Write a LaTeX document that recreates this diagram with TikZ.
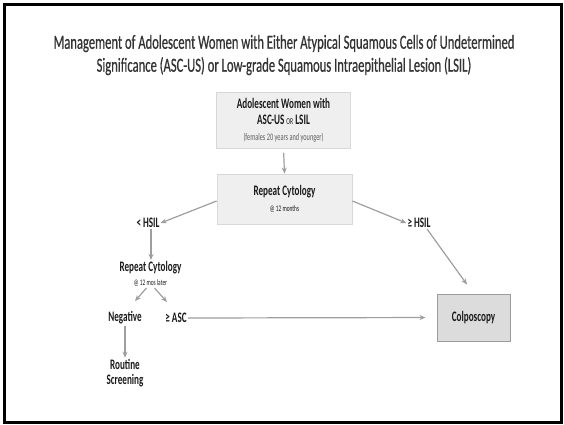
\documentclass[tikz,border=0pt]{standalone}
\usepackage{fontspec}
\setmainfont{Carlito}[FakeStretch=0.63]
\newfontfamily\headfont{Carlito}[FakeStretch=0.63, FakeBold=0.6]
\usetikzlibrary{arrows.meta}
\definecolor{boxfill}{HTML}{EFEFEF}
\definecolor{boxline}{HTML}{D8D8D8}
\definecolor{colpofill}{HTML}{DCDCDC}
\definecolor{colpoline}{HTML}{9C9C9C}
\definecolor{arrowgray}{HTML}{9E9E9E}
\definecolor{titlegray}{HTML}{333333}
\definecolor{inkgray}{HTML}{1A1A1A}
\definecolor{notegray}{HTML}{5E5E5E}

\newcommand{\lblfont}{\fontsize{14.5}{15.5}\selectfont\bfseries}
\newcommand{\notefont}{\fontsize{10}{11}\selectfont\mdseries}

\begin{document}
\begin{tikzpicture}[x=1pt,y=-1pt,
  flowbox/.style={draw=boxline, fill=boxfill, line width=0.8pt, inner sep=0pt,
    align=center, text=inkgray},
  endbox/.style={draw=colpoline, fill=colpofill, line width=1pt, inner sep=0pt,
    align=center, text=inkgray},
  label/.style={align=center, text=inkgray, inner sep=1pt, font=\lblfont},
  arr/.style={draw=arrowgray, line width=1.2pt,
    -{Stealth[length=6pt,width=5pt]}}]

  % page and frame
  \useasboundingbox (0,0) rectangle (564,424);
  \draw[line width=3pt, black] (4,4.5) rectangle (561.5,422.5);

  % heading
  \node[align=center, text=titlegray, font=\headfont\fontsize{20}{23}\selectfont]
    (title) at (284,55)
    {Management of Adolescent Women with Either Atypical Squamous Cells of Undetermined\\
     Significance (ASC-US) or Low-grade Squamous Intraepithelial Lesion (LSIL)};

  % boxes
  \node[flowbox, minimum width=134pt, minimum height=56pt, font=\lblfont]
    (start) at (283.5,120.5)
    {Adolescent Women with\\[0.5pt]
     ASC-US {\fontsize{9}{10}\selectfont\mdseries OR} LSIL\\[0pt]
     {\notefont\color{notegray}(females 20 years and younger)}};
  \node[flowbox, minimum width=135pt, minimum height=50pt, font=\lblfont]
    (rep1) at (284.5,199)
    {Repeat Cytology\\[1pt]
     {\fontsize{8.5}{9}\selectfont\mdseries @ 12 months}};
  \node[endbox, minimum width=73pt, minimum height=47pt, font=\lblfont]
    (colpo) at (473.5,317.5) {Colposcopy};

  % free-standing labels
  \node[label] (lt) at (148,223) {< HSIL};
  \node[label] (ge) at (419,223) {≥ HSIL};
  \node[label] (rep2) at (150.5,274)
    {Repeat Cytology\\[-1pt]{\fontsize{8.5}{9}\selectfont\mdseries @ 12 mos later}};
  \node[label] (neg) at (125,318) {Negative};
  \node[label] (geasc) at (176,318) {≥ ASC};
  \node[label] (rout) at (125,373) {Routine\\Screening};

  % arrow end points beside the small labels
  \coordinate (negin) at (135,301);
  \coordinate (ascin) at (167,302);

  % connectors
  \draw[arr, shorten <=4pt] (start.south) -- (rep1.north);
  \draw[arr] ([yshift=-2pt]rep1.west) -- (lt.east);
  \draw[arr] ([yshift=-2pt]rep1.east) -- (ge.west);
  \draw[arr, shorten >=11pt] ([xshift=8pt]ge.south) -- (colpo.north);
  \draw[arr] ([xshift=3pt]lt.south) -- ([xshift=0.5pt]rep2.north);
  \draw[arr] ([xshift=-4pt]rep2.south) -- (negin);
  \draw[arr] ([xshift=4pt]rep2.south) -- (ascin);
  \draw[arr] (neg.south) -- (rout.north);
  \draw[arr, shorten >=11pt] (geasc.east) -- (colpo.west);
\end{tikzpicture}
\end{document}
